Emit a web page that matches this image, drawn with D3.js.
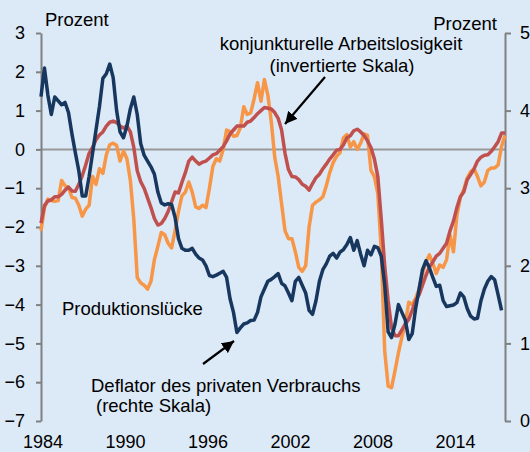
<!DOCTYPE html>
<html lang="de">
<head>
<meta charset="UTF-8">
<title>Produktionslücke, Arbeitslosigkeit und Deflator</title>
<script src="https://cdn.jsdelivr.net/npm/d3@7"></script>
<style>
  body { margin: 0; }
  svg text { font-family: "Liberation Sans", Arial, sans-serif; fill: #000; }
</style>
</head>
<body>
<svg id="chart" width="530" height="452"></svg>
<script>
// quarterly data, 1984Q1 onwards
const startYear = 1984
const yearTicks = [1984, 1990, 1996, 2002, 2008, 2014]
const leftTicks = [3, 2, 1, 0, -1, -2, -3, -4, -5, -6, -7]
const rightTicks = [5, 4, 3, 2, 1, 0]

// Produktionslücke (linke Skala, Prozent)
const produktionsluecke = [
  1.36, 2.1, 1.4, 0.9, 1.35, 1.25, 1.15, 1.21, 0.95, 0.4,
  -0.09, -0.55, -1.2, -1.2, -0.7, -0.1, 0.5, 1.1, 1.83, 1.95,
  2.2, 1.85, 1.0, 0.45, 0.3, 0.6, 1.05, 1.35, 0.9, 0.15,
  -0.15, -0.3, -0.45, -0.64, -1.1, -1.38, -1.43, -1.4, -1.42, -1.75,
  -2.3, -2.55, -2.6, -2.6, -2.55, -2.7, -2.8, -2.85, -3.0, -3.25,
  -3.28, -3.24, -3.19, -3.14, -3.3, -3.85, -4.2, -4.72, -4.6, -4.5,
  -4.47, -4.41, -4.4, -4.2, -3.8, -3.6, -3.4, -3.35, -3.28, -3.2,
  -3.45, -3.52, -3.7, -3.9, -3.4, -3.3, -3.5, -3.7, -4.15, -4.25,
  -3.9, -3.4, -3.1, -2.95, -2.75, -2.68, -2.8, -2.65, -2.58, -2.45,
  -2.27, -2.6, -2.35, -2.7, -3.0, -2.6, -2.72, -2.5, -2.53, -2.75,
  -3.5, -4.7, -4.85, -4.5, -4.0, -4.2, -4.4, -4.9, -4.75, -4.1,
  -3.6, -3.1, -2.87, -3.05, -3.3, -3.53, -3.5, -3.9, -4.05, -4.03,
  -4.01, -3.95, -3.7, -3.8, -4.1, -4.3, -4.37, -4.35, -3.9, -3.6,
  -3.4, -3.28, -3.36, -3.75, -4.15
]

// konjunkturelle Arbeitslosigkeit (linke Skala, invertiert)
const arbeitslosigkeit = [
  1.9, 1.45, 1.33, 1.3, 1.22, 1.22, 1.16, 1.05, 0.97, 1.07,
  1.08, 0.9, 0.68, 0.4, 0.1, -0.05, -0.25, -0.37, -0.45, -0.6,
  -0.7, -0.73, -0.69, -0.6, -0.55, -0.6, -0.45, -0.05, 0.55, 0.83,
  1.0, 1.25, 1.5, 1.78, 1.95, 1.91, 1.78, 1.6, 1.35, 1.1,
  1.12, 0.85, 0.6, 0.3, 0.2, 0.3, 0.38, 0.33, 0.3, 0.22,
  0.14, 0.11, 0.02, -0.07, -0.22, -0.4, -0.5, -0.6, -0.6, -0.6,
  -0.7, -0.73, -0.82, -0.92, -1.0, -1.08, -1.06, -1.04, -0.95, -0.8,
  -0.5, 0.1, 0.52, 0.7, 0.71, 0.78, 0.9, 0.95, 1.05, 0.88,
  0.73, 0.64, 0.5, 0.38, 0.25, 0.14, 0.02, 0.0, -0.12, -0.3,
  -0.35, -0.48, -0.52, -0.45, -0.36, -0.22, -0.05, 0.25, 0.7, 1.8,
  3.0, 3.9, 4.6, 4.8, 4.8, 4.65, 4.5, 4.38, 4.15, 3.9,
  3.75, 3.5, 3.25, 3.03, 2.9, 2.75, 2.68, 2.55, 2.42, 2.1,
  1.85, 1.5, 1.22, 1.1, 0.78, 0.65, 0.5, 0.3, 0.2, 0.15,
  0.14, 0.05, -0.07, -0.2, -0.42, -0.42
]

// Deflator des privaten Verbrauchs (rechte Skala, Prozent)
const deflator = [
  2.45, 2.75, 2.86, 2.84, 2.83, 2.84, 3.1, 3.03, 3.01, 2.88,
  2.87, 2.78, 2.64, 2.73, 2.78, 3.15, 3.05, 3.25, 3.19, 3.43,
  3.56, 3.58, 3.55, 3.35, 3.48, 3.38, 3.1, 2.6, 1.85, 1.78,
  1.75, 1.7, 1.8, 2.08, 2.25, 2.43, 2.4, 2.29, 2.23, 2.45,
  2.7, 2.9, 2.95, 3.08, 2.95, 2.76, 2.74, 2.78, 2.75, 3.0,
  3.28, 3.38, 3.35, 3.5, 3.75, 3.73, 3.67, 3.68, 3.78, 4.05,
  3.95, 3.97, 4.15, 4.36, 4.12, 4.4, 4.2, 3.86, 3.4, 3.15,
  2.8, 2.45, 2.35, 2.35, 2.18, 1.98, 1.93, 2.0, 2.5, 2.78,
  2.82, 2.85, 2.89, 3.03, 3.2, 3.33, 3.41, 3.46, 3.65, 3.69,
  3.53, 3.6, 3.5, 3.58, 3.7, 3.68, 3.23, 3.15, 2.93, 2.2,
  0.9, 0.45, 0.43, 0.65, 0.88, 1.08, 1.25, 1.53, 1.5, 1.58,
  1.7, 1.9, 2.05, 2.14, 2.03, 1.9, 2.01, 1.98, 2.08, 2.4,
  2.18, 2.65, 2.88, 2.98, 3.13, 3.21, 3.25, 3.15, 3.03, 3.08,
  3.23, 3.26, 3.26, 3.3, 3.54, 3.68
]

const width = 530
const height = 452
const plot = {left: 41, right: 505, top: 33, bottom: 421}

const svg = d3.select("#chart")
svg.append("rect").attr("width", width).attr("height", height).attr("fill", "#dce9f7")

const x = d3.scaleLinear().domain([startYear, 2017.75]).range([plot.left, plot.right])
const yLeft = d3.scaleLinear().domain([-7, 3]).range([plot.bottom, plot.top])
const yRight = d3.scaleLinear().domain([0, 5]).range([plot.bottom, plot.top])
const quarter = i => startYear + i / 4

// zero line
svg.append("line")
    .attr("x1", plot.left).attr("x2", plot.right)
    .attr("y1", yLeft(0)).attr("y2", yLeft(0))
    .attr("stroke", "#999999").attr("stroke-width", 2)

// axes
const leftAxis = svg.append("g")
    .attr("transform", `translate(${plot.left},0)`)
    .call(d3.axisLeft(yLeft).tickValues(leftTicks).tickSize(5).tickSizeOuter(0).tickPadding(11))
const rightAxis = svg.append("g")
    .attr("transform", `translate(${plot.right},0)`)
    .call(d3.axisRight(yRight).tickValues(rightTicks).tickSize(6).tickSizeOuter(0).tickPadding(9))
const bottomAxis = svg.append("g")
    .attr("transform", `translate(1.5,${plot.bottom})`)
    .call(d3.axisBottom(x).tickValues(yearTicks).tickFormat(d3.format("d")).tickSize(0).tickPadding(14))
bottomAxis.select(".domain").remove()

;[leftAxis, rightAxis, bottomAxis].forEach(g => {
    g.selectAll(".domain, .tick line").attr("stroke", "#808080").attr("stroke-width", 2)
    g.selectAll("text").attr("font-size", 18).attr("fill", "#000")
        .attr("font-family", "'Liberation Sans', Arial, sans-serif")
})

// series
const lineLeft = d3.line().x((d, i) => x(quarter(i))).y(d => yLeft(d))
const lineInverted = d3.line().x((d, i) => x(quarter(i))).y(d => yLeft(-d))
const lineRight = d3.line().x((d, i) => x(quarter(i))).y(d => yRight(d))

const series = [
    {data: deflator, gen: lineRight, color: "#f79646"},
    {data: arbeitslosigkeit, gen: lineInverted, color: "#c0504d"},
    {data: produktionsluecke, gen: lineLeft, color: "#17375e"}
]
svg.append("g").selectAll("path")
    .data(series)
    .enter()
    .append("path")
    .attr("d", d => d.gen(d.data))
    .attr("fill", "none")
    .attr("stroke", d => d.color)
    .attr("stroke-width", 3.5)
    .attr("stroke-linejoin", "round")

// labels
const labels = [
    {text: "Prozent", x: 45, y: 26, anchor: "start"},
    {text: "Prozent", x: 497, y: 30, anchor: "end"},
    {text: "konjunkturelle Arbeitslosigkeit", x: 341, y: 50, anchor: "middle"},
    {text: "(invertierte Skala)", x: 342, y: 72, anchor: "middle"},
    {text: "Produktionslücke", x: 62, y: 315, anchor: "start"},
    {text: "Deflator des privaten Verbrauchs", x: 91, y: 392, anchor: "start"},
    {text: "(rechte Skala)", x: 96, y: 412, anchor: "start"}
]
svg.append("g").selectAll("text")
    .data(labels)
    .enter()
    .append("text")
    .attr("x", d => d.x)
    .attr("y", d => d.y)
    .attr("text-anchor", d => d.anchor)
    .attr("font-size", 18.5)
    .text(d => d.text)

// arrows
svg.append("defs").append("marker")
    .attr("id", "head")
    .attr("viewBox", "0 0 10 10")
    .attr("refX", 10).attr("refY", 5)
    .attr("markerWidth", 5.5).attr("markerHeight", 5.5)
    .attr("markerUnits", "strokeWidth")
    .attr("orient", "auto")
    .append("path")
    .attr("d", "M0,0L10,5L0,10Z")
    .attr("fill", "#000")

const arrows = [
    {x1: 325, y1: 77, x2: 285, y2: 124},
    {x1: 203, y1: 364, x2: 234, y2: 341}
]
svg.append("g").selectAll("line")
    .data(arrows)
    .enter()
    .append("line")
    .attr("x1", d => d.x1).attr("y1", d => d.y1)
    .attr("x2", d => d.x2).attr("y2", d => d.y2)
    .attr("stroke", "#000")
    .attr("stroke-width", 2.2)
    .attr("marker-end", "url(#head)")
</script>
</body>
</html>
